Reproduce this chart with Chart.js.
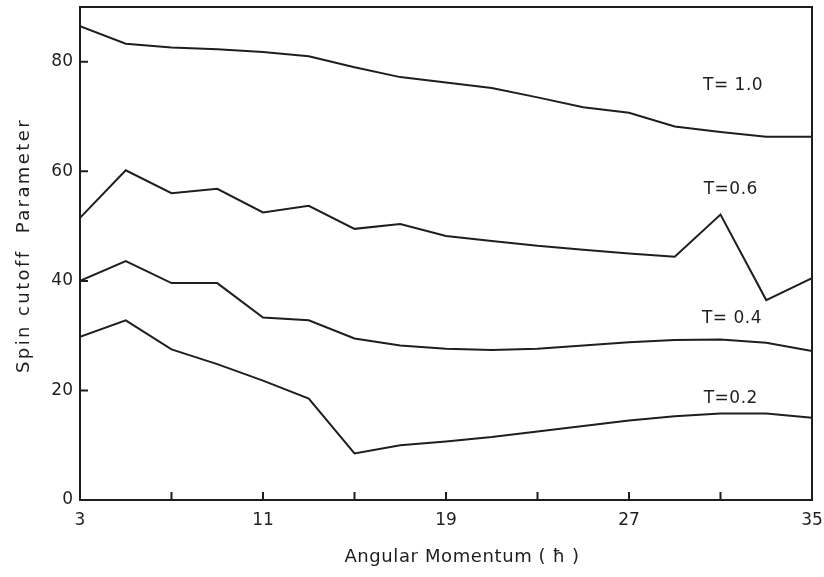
<!DOCTYPE html>
<html>
<head>
<meta charset="utf-8">
<script src="https://cdn.jsdelivr.net/npm/chart.js@4"></script>
<style>
  html, body { margin: 0; padding: 0; background: #fff; }
  #wrap { width: 824px; height: 577px; }
</style>
</head>
<body>
<div id="wrap"><canvas id="c" width="824" height="577"></canvas></div>
<script>
// ---- data ----
const angularMomentum = [3,5,7,9,11,13,15,17,19,21,23,25,27,29,31,33,35];
const seriesT10 = [86.5,83.3,82.6,82.3,81.8,81.0,79.0,77.2,76.2,75.2,73.5,71.7,70.7,68.2,67.2,66.3,66.3];
const seriesT06 = [51.5,60.2,56.0,56.8,52.5,53.7,49.5,50.4,48.2,47.3,46.4,45.7,45.0,44.4,52.1,36.5,40.5];
const seriesT04 = [40.0,43.6,39.6,39.6,33.3,32.8,29.5,28.2,27.6,27.4,27.6,28.2,28.8,29.2,29.3,28.7,27.2];
const seriesT02 = [29.8,32.8,27.5,24.8,21.8,18.5,8.5,10.0,10.7,11.5,12.5,13.5,14.5,15.3,15.8,15.8,15.0];
const seriesNames = ['T= 1.0','T=0.6','T= 0.4','T=0.2'];
const xTickValues = [3,7,11,15,19,23,27,31,35];
const xTickLabels = [3,11,19,27,35];
const yTickValues = [0,20,40,60,80];
const xTitle = 'Angular Momentum ( ħ )';
const yTitle = 'Spin cutoff  Parameter';

const FONT = "'DejaVu Sans', 'Liberation Sans', sans-serif";
const INK = '#1e1e1e';

const toPts = (arr) => angularMomentum.map((x, i) => ({x, y: arr[i]}));

const frameAndTicks = {
  id: 'frameAndTicks',
  afterDatasetsDraw(chart) {
    const {ctx, chartArea: a, scales: {x, y}} = chart;
    ctx.save();
    ctx.strokeStyle = INK;
    ctx.lineWidth = 2;
    ctx.strokeRect(a.left, a.top, a.right - a.left, a.bottom - a.top);
    ctx.beginPath();
    x.ticks.forEach(t => {
      const px = x.getPixelForValue(t.value);
      ctx.moveTo(px, a.bottom); ctx.lineTo(px, a.bottom - 8);
    });
    y.ticks.forEach(t => {
      const py = y.getPixelForValue(t.value);
      ctx.moveTo(a.left, py); ctx.lineTo(a.left + 8, py);
    });
    ctx.stroke();
    ctx.restore();
  }
};

const textLayer = {
  id: 'textLayer',
  afterDatasetsDraw(chart, args, opts) {
    const {ctx, chartArea: a, scales: {x, y}} = chart;
    ctx.save();
    ctx.fillStyle = INK;
    ctx.textAlign = 'center';
    ctx.textBaseline = 'middle';
    // curve labels
    ctx.font = '17px ' + FONT;
    ctx.letterSpacing = '0.5px';
    chart.data.datasets.forEach((ds, i) => {
      const p = opts.at[i];
      ctx.fillText(ds.label, x.getPixelForValue(p[0]), y.getPixelForValue(p[1]));
    });
    // x axis title
    ctx.font = '18px ' + FONT;
    ctx.letterSpacing = '0.6px';
    ctx.fillText(xTitle, (a.left + a.right) / 2 + opts.xTitleShift, opts.xTitleY);
    // y axis title
    ctx.translate(opts.yTitleX, (a.top + a.bottom) / 2 - 8);
    ctx.rotate(-Math.PI / 2);
    ctx.font = '18px ' + FONT;
    ctx.letterSpacing = '2.4px';
    ctx.fillText(yTitle, 0, 0);
    ctx.restore();
  }
};

const lineStyle = {borderColor: INK, borderWidth: 2, pointRadius: 0, tension: 0, fill: false};

new Chart(document.getElementById('c'), {
  type: 'line',
  data: {
    datasets: [
      {label: seriesNames[0], data: toPts(seriesT10), ...lineStyle},
      {label: seriesNames[1], data: toPts(seriesT06), ...lineStyle},
      {label: seriesNames[2], data: toPts(seriesT04), ...lineStyle},
      {label: seriesNames[3], data: toPts(seriesT02), ...lineStyle},
    ]
  },
  options: {
    responsive: false,
    animation: false,
    devicePixelRatio: 1,
    layout: {padding: {top: 7, right: 12, left: 0, bottom: 0}},
    plugins: {
      legend: {display: false},
      tooltip: {enabled: false},
      textLayer: {at: [[31.55, 75.6], [31.45, 56.6], [31.5, 33.2], [31.45, 18.6]],
                  xTitleShift: 16, xTitleY: 557, yTitleX: 24}
    },
    scales: {
      x: {
        type: 'linear', min: 3, max: 35,
        afterBuildTicks: (s) => { s.ticks = xTickValues.map(v => ({value: v})); },
        afterFit: (s) => { s.height = 77; s.paddingLeft = 0; s.paddingRight = 0; },
        grid: {display: false, drawTicks: false}, border: {display: false},
        ticks: {
          color: INK, font: {family: FONT, size: 17}, padding: 10, maxRotation: 0, autoSkip: false,
          callback: (v) => xTickLabels.includes(v) ? String(v) : ''
        }
      },
      y: {
        type: 'linear', min: 0, max: 90,
        afterBuildTicks: (s) => { s.ticks = yTickValues.map(v => ({value: v})); },
        afterFit: (s) => { s.width = 80; s.paddingTop = 0; s.paddingBottom = 0; },
        grid: {display: false, drawTicks: false}, border: {display: false},
        ticks: {color: INK, font: {family: FONT, size: 17}, padding: 7,
                callback: (v) => String(v)}
      }
    }
  },
  plugins: [frameAndTicks, textLayer]
});
</script>
</body>
</html>
